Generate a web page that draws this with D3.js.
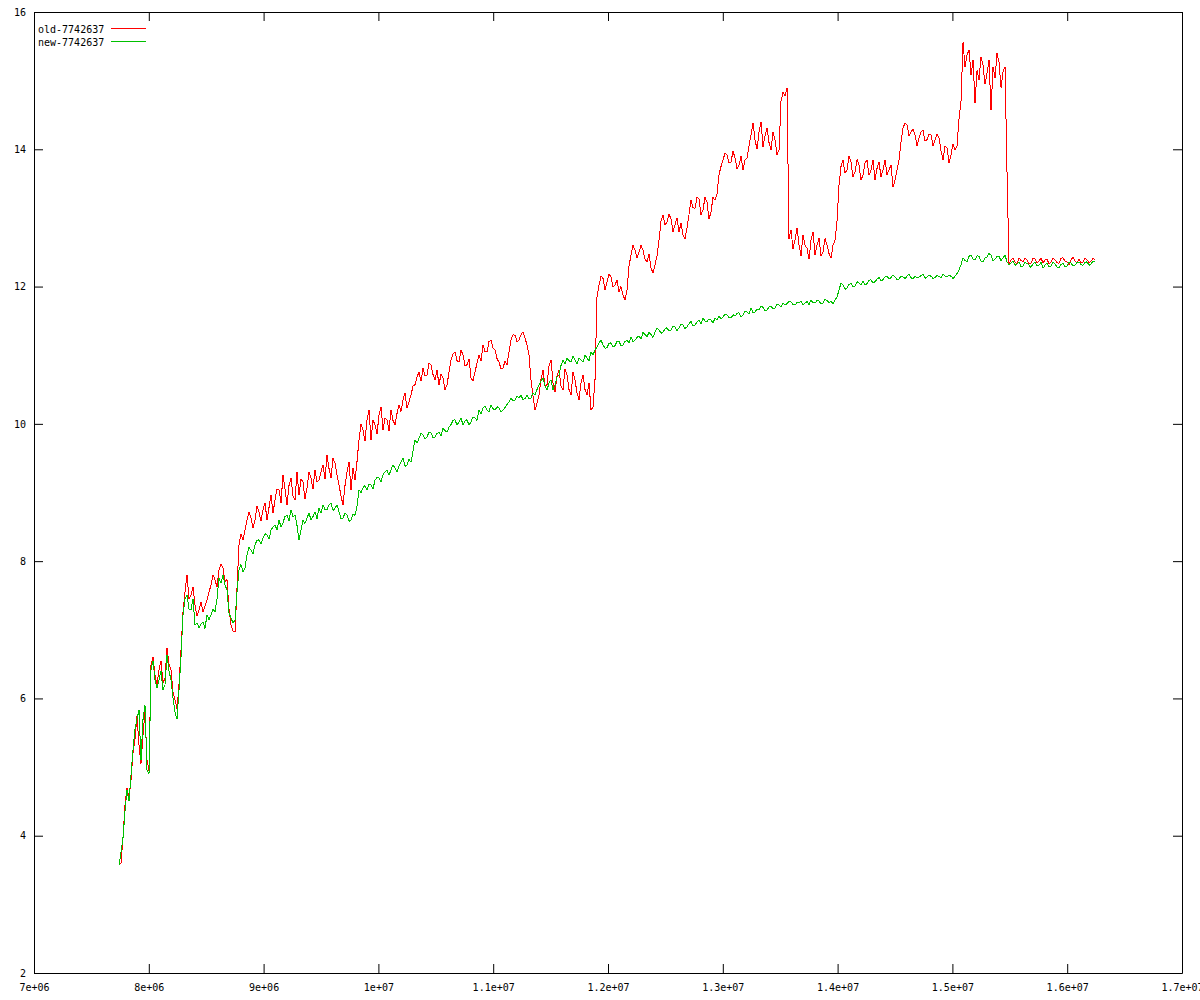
<!DOCTYPE html>
<html><head><meta charset="utf-8">
<script src="https://cdn.jsdelivr.net/npm/d3@7"></script>
<style>
body{margin:0;background:#fff}
svg{display:block;background:#fff}
text{font-family:"DejaVu Sans Mono","Liberation Mono",monospace;font-size:10px;fill:#000}
</style>
</head><body>
<svg id="chart" width="1200" height="1000"></svg>
<script>
// ---- data ----
const seriesNames = ["old-7742637", "new-7742637"];
const seriesColors = ["#ff0000", "#00c000"];
const xStart = 7740400;   // first sample
const xStep = 17422;      // sample spacing

const oldSeries = [
  3.57,3.60,3.97,4.45,4.70,4.55,4.81,5.20,5.40,5.75,5.32,5.05,5.47,5.80,5.10,4.95,6.49,6.60,6.34,6.20,
  6.41,6.55,6.22,6.30,6.74,6.50,6.41,6.10,5.98,5.85,6.20,6.70,7.26,7.55,7.80,7.45,7.51,7.62,7.36,7.20,
  7.29,7.40,7.26,7.35,7.43,7.55,7.65,7.80,7.73,7.62,7.87,7.95,7.90,7.70,7.73,7.30,7.07,6.98,6.97,7.60,
  8.24,8.40,8.31,8.45,8.60,8.72,8.63,8.48,8.60,8.80,8.72,8.58,8.75,8.85,8.60,8.78,8.96,8.70,8.89,9.05,
  9.04,8.85,9.26,9.05,8.82,9.10,9.21,8.95,8.89,9.30,8.96,9.20,9.15,8.90,9.07,9.30,9.21,9.05,9.33,9.15,
  9.18,9.30,9.40,9.20,9.55,9.35,9.21,9.50,9.43,9.25,9.11,8.95,8.82,9.10,9.30,9.45,9.04,9.35,9.18,9.45,
  9.77,10.00,9.91,9.75,10.06,10.20,9.77,10.05,9.99,9.85,10.13,10.25,9.91,10.08,10.06,9.90,10.20,10.05,9.99,10.15,
  10.28,10.18,10.35,10.45,10.23,10.32,10.42,10.55,10.57,10.68,10.76,10.62,10.81,10.70,10.71,10.88,10.86,10.72,10.64,10.78,
  10.57,10.72,10.67,10.50,10.57,10.75,10.93,11.02,11.05,10.92,10.90,11.08,11.00,10.85,10.86,10.95,10.67,10.62,10.76,10.88,
  11.00,10.92,11.15,11.05,11.05,11.20,11.22,11.10,11.08,10.95,10.90,10.80,10.81,10.92,10.86,11.05,11.22,11.30,11.29,11.20,
  11.22,11.30,11.34,11.25,11.15,11.00,10.64,10.40,10.20,10.30,10.42,10.65,10.78,10.55,10.57,10.85,10.93,10.60,10.46,10.70,
  10.78,10.55,10.49,10.80,10.71,10.50,10.42,10.75,10.64,10.45,10.35,10.60,10.71,10.50,10.42,10.60,10.20,10.25,10.64,11.85,
  12.02,12.15,12.12,11.95,12.06,12.18,12.14,12.00,12.02,12.10,11.92,12.00,11.88,11.80,11.95,12.30,12.46,12.60,12.53,12.42,
  12.50,12.60,12.53,12.40,12.36,12.48,12.27,12.20,12.31,12.45,12.68,12.95,13.04,12.90,12.94,13.05,12.99,12.80,12.90,13.00,
  12.80,12.92,12.75,12.70,12.85,13.05,13.26,13.15,13.14,13.30,13.28,13.05,13.12,13.30,13.23,12.98,13.09,13.30,13.26,13.35,
  13.63,13.75,13.84,13.95,13.92,13.80,13.81,13.98,13.87,13.72,13.77,13.90,13.70,13.85,13.87,14.05,14.21,14.38,14.14,14.00,
  14.25,14.40,14.04,14.20,14.31,14.10,13.99,14.25,14.14,13.92,13.99,14.70,14.83,14.78,14.89,12.70,12.82,12.55,12.68,12.85,
  12.61,12.45,12.75,12.60,12.56,12.40,12.68,12.80,12.46,12.60,12.71,12.45,12.50,12.70,12.61,12.48,12.42,12.60,12.68,12.95,
  13.48,13.75,13.84,13.65,13.70,13.90,13.81,13.60,13.67,13.85,13.77,13.55,13.63,13.80,13.84,13.62,13.70,13.85,13.55,13.72,
  13.81,13.60,13.70,13.85,13.63,13.70,13.77,13.45,13.55,13.70,13.84,14.10,14.31,14.38,14.35,14.20,14.25,14.30,14.21,14.05,
  14.16,14.25,14.28,14.12,14.14,14.22,14.21,14.05,14.14,14.22,14.16,13.98,13.84,14.05,14.02,13.80,13.92,14.08,13.99,14.05,
  14.45,14.70,15.56,15.20,15.37,15.45,15.08,15.30,14.67,15.15,15.01,15.35,15.23,14.95,15.11,15.30,14.57,15.20,15.04,15.40,
  15.27,14.90,15.13,15.20,13.67,12.33,12.39,12.42,12.36,12.33,12.42,12.38,12.36,12.42,12.39,12.33,12.34,12.41,12.40,12.35,
  12.37,12.42,12.34,12.39,12.40,12.33,12.36,12.42,12.39,12.35,12.34,12.41,12.42,12.37,12.36,12.32,12.39,12.43,12.37,12.35,
  12.40,12.34,12.36,12.42,12.39,12.35,12.37,12.41,12.39
];

const newSeries = [
  3.57,3.76,3.97,4.35,4.67,4.50,4.88,5.25,5.55,5.70,5.83,5.10,5.69,5.90,4.96,4.90,6.41,6.55,6.27,6.15,
  6.27,6.40,6.12,6.20,6.63,6.40,6.27,6.00,5.80,5.70,6.12,6.60,7.22,7.45,7.51,7.30,7.29,7.45,7.07,7.10,
  7.03,7.08,7.11,7.02,7.22,7.15,7.22,7.30,7.26,7.45,7.75,7.68,7.80,7.65,7.58,7.25,7.17,7.10,7.14,7.55,
  7.87,7.95,7.84,7.90,8.09,8.20,8.16,8.10,8.24,8.30,8.31,8.25,8.34,8.40,8.38,8.32,8.45,8.50,8.53,8.45,
  8.60,8.50,8.56,8.65,8.67,8.58,8.75,8.65,8.67,8.52,8.31,8.45,8.60,8.55,8.63,8.70,8.60,8.65,8.72,8.62,
  8.77,8.70,8.82,8.75,8.75,8.82,8.85,8.74,8.77,8.82,8.72,8.62,8.63,8.70,8.67,8.58,8.60,8.68,8.67,8.80,
  9.04,9.00,9.07,9.10,9.04,9.12,9.11,9.05,9.18,9.22,9.21,9.16,9.26,9.30,9.33,9.25,9.33,9.40,9.36,9.30,
  9.39,9.45,9.50,9.38,9.40,9.48,9.44,9.60,9.77,9.72,9.79,9.86,9.84,9.78,9.81,9.88,9.87,9.80,9.81,9.86,
  9.88,9.82,9.94,9.90,9.88,9.95,9.99,10.05,10.06,9.98,10.03,10.08,9.99,10.04,10.06,9.98,10.03,10.10,10.09,10.05,
  10.20,10.15,10.23,10.26,10.20,10.17,10.28,10.22,10.20,10.25,10.23,10.17,10.20,10.24,10.28,10.32,10.38,10.33,10.35,10.40,
  10.38,10.42,10.35,10.37,10.42,10.36,10.38,10.45,10.42,10.50,10.57,10.62,10.67,10.55,10.49,10.60,10.64,10.50,10.57,10.68,
  10.71,10.85,10.93,10.88,10.96,10.92,10.90,10.98,10.93,10.87,10.96,10.93,10.90,11.00,10.96,10.92,11.05,11.00,11.08,11.12,
  11.18,11.22,11.15,11.10,11.11,11.17,11.18,11.12,11.14,11.20,11.20,11.14,11.15,11.20,11.22,11.18,11.27,11.20,11.22,11.26,
  11.28,11.24,11.33,11.30,11.27,11.33,11.30,11.26,11.34,11.39,11.37,11.32,11.34,11.38,11.40,11.35,11.37,11.42,11.41,11.36,
  11.40,11.45,11.44,11.39,11.41,11.46,11.49,11.43,11.44,11.48,11.51,11.46,11.54,11.50,11.49,11.53,11.51,11.47,11.54,11.51,
  11.57,11.53,11.56,11.60,11.59,11.55,11.54,11.59,11.57,11.61,11.62,11.56,11.59,11.64,11.63,11.60,11.69,11.62,11.63,11.67,
  11.66,11.71,11.70,11.65,11.66,11.70,11.72,11.67,11.69,11.74,11.73,11.70,11.76,11.73,11.75,11.79,11.78,11.74,11.73,11.77,
  11.76,11.79,11.73,11.76,11.78,11.74,11.80,11.77,11.76,11.80,11.79,11.75,11.76,11.81,11.80,11.77,11.78,11.75,11.80,11.85,
  11.95,12.05,12.02,11.96,11.98,12.03,12.05,12.00,12.01,12.07,12.05,12.02,12.08,12.03,12.04,12.09,12.10,12.05,12.07,12.11,
  12.13,12.08,12.10,12.14,12.15,12.11,12.13,12.17,12.14,12.10,12.11,12.15,12.14,12.12,12.15,12.18,12.13,12.11,12.15,12.13,
  12.14,12.16,12.18,12.12,12.14,12.17,12.15,12.12,12.13,12.16,12.15,12.13,12.18,12.15,12.14,12.17,12.15,12.12,12.15,12.19,
  12.24,12.32,12.42,12.38,12.36,12.44,12.46,12.40,12.39,12.45,12.44,12.37,12.36,12.42,12.43,12.48,12.46,12.38,12.40,12.44,
  12.44,12.38,12.42,12.46,12.36,12.32,12.34,12.37,12.31,12.33,12.36,12.29,12.30,12.35,12.34,12.31,12.28,12.33,12.36,12.30,
  12.31,12.35,12.27,12.31,12.34,12.29,12.30,12.35,12.33,12.28,12.27,12.32,12.34,12.29,12.30,12.36,12.34,12.30,12.31,12.35,
  12.36,12.32,12.31,12.35,12.36,12.31,12.33,12.37,12.36
];

const xTicks = [7e6, 8e6, 9e6, 1e7, 1.1e7, 1.2e7, 1.3e7, 1.4e7, 1.5e7, 1.6e7, 1.7e7];
const xTickLabels = ["7e+06","8e+06","9e+06","1e+07","1.1e+07","1.2e+07","1.3e+07","1.4e+07","1.5e+07","1.6e+07","1.7e+07"];
const yTicks = [2, 4, 6, 8, 10, 12, 14, 16];
const yTickLabels = ["2","4","6","8","10","12","14","16"];

// ---- drawing ----
(function () {
  const svg = d3.select("#chart");
  const mLeft = 34, mRight = 1182, mTop = 12, mBottom = 973;
  const x = d3.scaleLinear().domain([7e6, 1.7e7]).range([mLeft, mRight]);
  const y = d3.scaleLinear().domain([2, 16]).range([mBottom, mTop]);

  svg.append("rect").attr("width", 1200).attr("height", 1000).attr("fill", "#fff");

  const allSeries = [oldSeries, newSeries];
  const line = d3.line()
    .x((d, i) => x(xStart + i * xStep))
    .y(d => y(d));

  allSeries.forEach((s, k) => {
    svg.append("path")
      .datum(s)
      .attr("d", line)
      .attr("fill", "none")
      .attr("stroke", seriesColors[k])
      .attr("stroke-width", 1)
      .attr("shape-rendering", "crispEdges");
  });

  function styleAxis(g) {
    g.selectAll("path,line").attr("stroke", "#000").attr("stroke-width", 1);
    g.attr("font-family", null).attr("font-size", null);
  }

  svg.append("g").attr("transform", `translate(0,${mBottom})`)
    .call(d3.axisBottom(x).tickValues(xTicks).tickFormat((d, i) => xTickLabels[i])
      .tickSizeInner(-9).tickSizeOuter(0).tickPadding(11))
    .call(styleAxis);
  svg.append("g").attr("transform", `translate(0,${mTop})`)
    .call(d3.axisTop(x).tickValues(xTicks).tickFormat("")
      .tickSizeInner(-9).tickSizeOuter(0))
    .call(styleAxis);
  svg.append("g").attr("transform", `translate(${mLeft},0)`)
    .call(d3.axisLeft(y).tickValues(yTicks).tickFormat((d, i) => yTickLabels[i])
      .tickSizeInner(-9).tickSizeOuter(0).tickPadding(8))
    .call(styleAxis);
  svg.append("g").attr("transform", `translate(${mRight},0)`)
    .call(d3.axisRight(y).tickValues(yTicks).tickFormat("")
      .tickSizeInner(-9).tickSizeOuter(0))
    .call(styleAxis);

  // legend
  const legend = svg.append("g");
  seriesNames.forEach((name, k) => {
    const cy = 28.5 + k * 13;
    legend.append("text").attr("x", 38).attr("y", cy + 4).text(name);
    legend.append("line").attr("x1", 111).attr("x2", 146).attr("y1", cy).attr("y2", cy)
      .attr("stroke", seriesColors[k]).attr("stroke-width", 1);
  });
})();
</script>
</body></html>
